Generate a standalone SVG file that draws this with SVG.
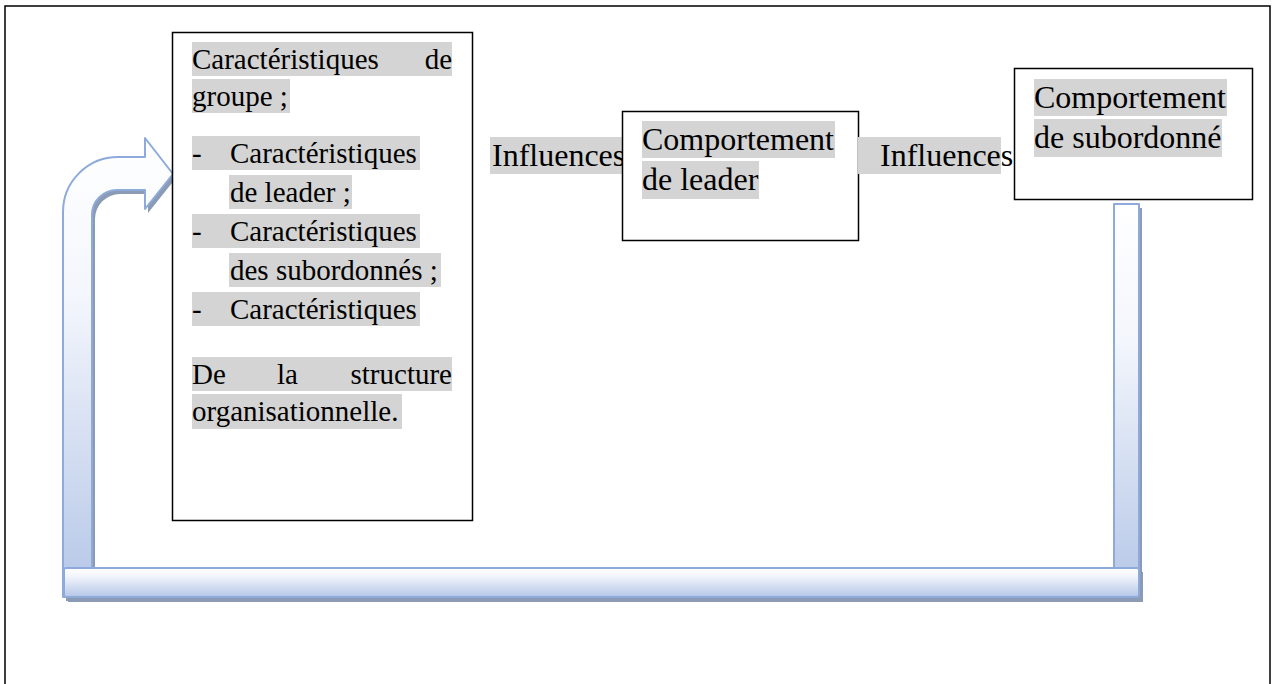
<svg xmlns="http://www.w3.org/2000/svg" width="1274" height="684" viewBox="0 0 1274 684">
<defs>
<linearGradient id="gBent" gradientUnits="userSpaceOnUse" x1="0" y1="138" x2="0" y2="597">
<stop offset="0" stop-color="#FFFFFF"/><stop offset="0.35" stop-color="#F3F6FC"/><stop offset="1" stop-color="#B4C6E7"/>
</linearGradient>
<linearGradient id="gRight" gradientUnits="userSpaceOnUse" x1="0" y1="204" x2="0" y2="597">
<stop offset="0" stop-color="#FFFFFF"/><stop offset="0.35" stop-color="#F3F6FC"/><stop offset="1" stop-color="#B4C6E7"/>
</linearGradient>
<linearGradient id="gBar" x1="0" y1="0" x2="0" y2="1">
<stop offset="0" stop-color="#FFFFFF"/><stop offset="0.3" stop-color="#F1F4FB"/><stop offset="1" stop-color="#B4C6E7"/>
</linearGradient>
<style>
.frame{fill:none;stroke:#000;stroke-width:1.5}
.box{fill:#fff;stroke:#000;stroke-width:1.5}
.hl{fill:#D4D4D4}
.t29{font-size:29px;fill:#000}
.t32{font-size:32px;fill:#000}
.arr{stroke:#8EAADB;stroke-width:2;stroke-linejoin:round}
.shadow{fill:#8C9BB5}
</style>
</defs>
<rect x="0" y="0" width="1274" height="684" fill="#fff"/>
<rect class="frame" x="5" y="6" width="1265" height="720"/>

<g id="connectors">
  <rect class="shadow" x="1117" y="208" width="25" height="394"/>
  <rect class="arr" x="1114" y="204" width="25" height="394" fill="url(#gRight)"/>
  <path class="shadow" d="M66,601 L66,216 A55,55 0 0 1 121,161 L148,161 L148,142 L176,178 L148,213 L148,194 L120,194 A25,25 0 0 0 95,219 L95,601 Z"/>
  <path class="arr" fill="url(#gBent)" d="M63,597 L63,212 A55,55 0 0 1 118,157 L145,157 L145,138 L173,174 L145,209 L145,190 L117,190 A25,25 0 0 0 92,215 L92,597 Z"/>
  <rect class="shadow" x="68" y="572" width="1075" height="30"/>
  <rect class="arr" x="64" y="568" width="1075" height="29" rx="2" fill="url(#gBar)"/>
</g>

<g font-family="'Liberation Serif', 'Times New Roman', 'DejaVu Serif', serif">
<g id="node-groupe">
  <rect class="box" x="172.5" y="32.5" width="300" height="488"/>
  <rect class="hl" x="192" y="42" width="260" height="34"/>
  <text class="t29" x="192" y="69">Caractéristiques</text>
  <text class="t29" x="452" y="69" text-anchor="end">de</text>
  <rect class="hl" x="192" y="79" width="98" height="34"/>
  <text class="t29" x="192" y="106">groupe ;</text>
  <rect class="hl" x="192" y="136" width="228" height="34"/>
  <text class="t29" x="192" y="163">-</text>
  <text class="t29" x="230" y="163">Caractéristiques</text>
  <rect class="hl" x="229" y="175" width="123" height="34"/>
  <text class="t29" x="230" y="202">de leader ;</text>
  <rect class="hl" x="192" y="214" width="228" height="34"/>
  <text class="t29" x="192" y="241">-</text>
  <text class="t29" x="230" y="241">Caractéristiques</text>
  <rect class="hl" x="229" y="253" width="212" height="34"/>
  <text class="t29" x="230" y="280">des subordonnés ;</text>
  <rect class="hl" x="192" y="292" width="228" height="34"/>
  <text class="t29" x="192" y="319">-</text>
  <text class="t29" x="230" y="319">Caractéristiques</text>
  <rect class="hl" x="192" y="357" width="260" height="34"/>
  <text class="t29" x="192" y="384">De</text>
  <text class="t29" x="277" y="384">la</text>
  <text class="t29" x="452" y="384" text-anchor="end">structure</text>
  <rect class="hl" x="192" y="394" width="210" height="35"/>
  <text class="t29" x="192" y="421">organisationnelle.</text>
</g>

<g id="label-influences-1">
  <rect class="hl" x="490" y="137" width="132" height="37"/>
  <text class="t32" x="492" y="166">Influences</text>
</g>

<g id="node-leader">
  <rect class="box" x="622.5" y="111.5" width="236" height="129"/>
  <rect class="hl" x="642" y="121" width="193" height="37"/>
  <text class="t32" x="642" y="150">Comportement</text>
  <rect class="hl" x="642" y="161" width="117" height="38"/>
  <text class="t32" x="642" y="190">de leader</text>
</g>

<g id="label-influences-2">
  <rect class="hl" x="858" y="137" width="143" height="37"/>
  <text class="t32" x="880" y="166">Influences</text>
</g>

<g id="node-subordonne">
  <rect class="box" x="1014.5" y="68.5" width="238" height="131"/>
  <rect class="hl" x="1034" y="79" width="193" height="37"/>
  <text class="t32" x="1034" y="108">Comportement</text>
  <rect class="hl" x="1034" y="119" width="188" height="38"/>
  <text class="t32" x="1034" y="148">de subordonné</text>
</g>
</g>
</svg>
